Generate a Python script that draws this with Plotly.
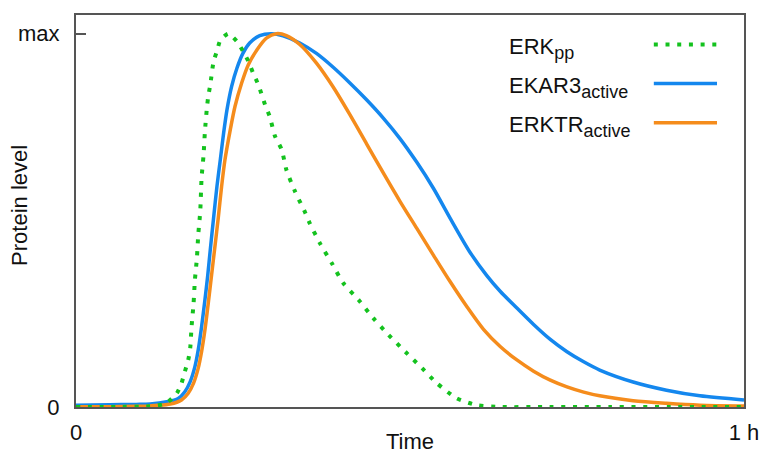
import plotly.graph_objects as go

# ---- data (time in fraction of 1 h, level as fraction of max) ----
erk_t = [0.0, 0.06, 0.11, 0.13, 0.138, 0.151, 0.158, 0.163, 0.168, 0.171, 0.173, 0.176, 0.178, 0.181,
         0.183, 0.186, 0.188, 0.191, 0.193, 0.196, 0.198, 0.201, 0.206, 0.211, 0.216, 0.228,
         0.241, 0.250, 0.258, 0.265, 0.273, 0.283, 0.290, 0.298, 0.308, 0.315, 0.328, 0.343,
         0.350, 0.365, 0.383, 0.400, 0.423, 0.445, 0.468, 0.493, 0.518, 0.540, 0.570, 0.600,
         0.635, 0.70, 0.80, 0.90, 1.0]
erk_v = [0.0, 0.0, 0.002, 0.007, 0.014, 0.037, 0.064, 0.095, 0.126, 0.158, 0.215, 0.278, 0.340, 0.399,
         0.461, 0.524, 0.614, 0.676, 0.738, 0.802, 0.832, 0.863, 0.926, 0.953, 0.982, 1.0,
         0.979, 0.953, 0.926, 0.895, 0.863, 0.810, 0.778, 0.725, 0.689, 0.635, 0.577, 0.521,
         0.492, 0.439, 0.385, 0.332, 0.287, 0.238, 0.193, 0.148, 0.104, 0.064, 0.023, 0.005,
         0.0, 0.0, 0.0, 0.0, 0.0]

ekar_t = [0.0, 0.05, 0.09, 0.111, 0.136, 0.153, 0.163, 0.171, 0.178, 0.183, 0.188, 0.193, 0.197,
          0.201, 0.206, 0.211, 0.216, 0.221, 0.226, 0.233, 0.241, 0.250, 0.260, 0.275, 0.293,
          0.310, 0.335, 0.360, 0.385, 0.410, 0.435, 0.460, 0.485, 0.510, 0.535, 0.560, 0.590,
          0.615, 0.635, 0.660, 0.685, 0.710, 0.735, 0.760, 0.784, 0.834, 0.884, 0.934, 1.0]
ekar_v = [0.005, 0.006, 0.007, 0.008, 0.014, 0.023, 0.041, 0.068, 0.108, 0.153, 0.215, 0.287, 0.349,
          0.421, 0.507, 0.591, 0.662, 0.734, 0.796, 0.859, 0.908, 0.948, 0.975, 0.995, 1.0,
          0.994, 0.975, 0.947, 0.910, 0.868, 0.823, 0.774, 0.719, 0.656, 0.586, 0.506, 0.414,
          0.352, 0.310, 0.265, 0.221, 0.181, 0.148, 0.121, 0.099, 0.067, 0.045, 0.030, 0.019]

erktr_t = [0.0, 0.05, 0.09, 0.111, 0.141, 0.158, 0.168, 0.176, 0.183, 0.188, 0.193, 0.198, 0.203,
           0.208, 0.213, 0.218, 0.223, 0.231, 0.238, 0.248, 0.258, 0.271, 0.285, 0.300, 0.315,
           0.335, 0.360, 0.385, 0.410, 0.435, 0.460, 0.485, 0.510, 0.535, 0.560, 0.585, 0.610,
           0.635, 0.660, 0.685, 0.710, 0.735, 0.760, 0.784, 0.834, 0.884, 0.934, 1.0]
erktr_v = [0.001, 0.001, 0.002, 0.003, 0.008, 0.019, 0.037, 0.064, 0.104, 0.148, 0.206, 0.278, 0.354,
           0.430, 0.507, 0.591, 0.662, 0.743, 0.805, 0.868, 0.917, 0.957, 0.988, 1.0, 0.995,
           0.971, 0.921, 0.857, 0.783, 0.705, 0.627, 0.551, 0.479, 0.407, 0.336, 0.269, 0.208,
           0.162, 0.126, 0.096, 0.072, 0.054, 0.040, 0.030, 0.017, 0.010, 0.005, 0.003]

x_tickvals = [0, 1]
x_ticktext = ["0", "1 h"]
y_tickvals = [0, 1]
y_ticktext = ["0", "max"]

SUB = '<sub><span style="font-size:18px">{}</span></sub>'
legend_labels = ["ERK" + SUB.format("pp"), "EKAR3" + SUB.format("active"), "ERKTR" + SUB.format("active")]

GREEN = "#14c21e"
BLUE = "#1487ee"
ORANGE = "#f58c1c"
AXIS = "#555555"
FONT = "Liberation Sans, Arial, sans-serif"
TXT = "#111111"

fig = go.Figure()
fig.add_trace(go.Scatter(x=ekar_t, y=ekar_v, mode="lines", line=dict(color=BLUE, width=3.5, shape="spline", smoothing=0.8), name="EKAR3"))
fig.add_trace(go.Scatter(x=erktr_t, y=erktr_v, mode="lines", line=dict(color=ORANGE, width=3.5, shape="spline", smoothing=0.8), name="ERKTR"))
fig.add_trace(go.Scatter(x=erk_t, y=erk_v, mode="lines", line=dict(color=GREEN, width=4, dash="4px,7.7px", shape="spline", smoothing=0.6), name="ERKpp"))

fig.update_layout(
    width=764, height=452,
    margin=dict(l=76, r=20, t=15, b=45),
    paper_bgcolor="white", plot_bgcolor="white",
    showlegend=False,
    font=dict(family=FONT, size=22, color=TXT),
    xaxis=dict(range=[0, 1], tickvals=x_tickvals, ticktext=x_ticktext, ticks="",
               showline=True, mirror=True, linecolor=AXIS, linewidth=2,
               showgrid=False, zeroline=False, ticklabelstandoff=5, automargin=False,
               tickfont=dict(size=22, family=FONT, color=TXT)),
    yaxis=dict(range=[0, 1.05], tickvals=y_tickvals, ticktext=y_ticktext, ticks="inside",
               ticklen=10, tickwidth=1.5, tickcolor=AXIS,
               showline=True, mirror=True, linecolor=AXIS, linewidth=2,
               showgrid=False, zeroline=False, ticklabelstandoff=10, automargin=False,
               tickfont=dict(size=22, family=FONT, color=TXT)),
)

# axis titles
fig.add_annotation(text="Time", xref="paper", yref="paper", x=0.5, y=0, yanchor="middle",
                   yshift=-34, height=22, valign="middle", showarrow=False,
                   font=dict(size=22, family=FONT, color=TXT))
fig.add_annotation(text="Protein level", xref="paper", yref="paper", x=0, y=0.513, xanchor="center",
                   yanchor="middle", xshift=-56, textangle=-90, showarrow=False,
                   font=dict(size=22, family=FONT, color=TXT))

# manual legend: label on left, line sample on right
legend_colors = [GREEN, BLUE, ORANGE]
legend_dash = ["4px,7.7px", "solid", "solid"]
legend_widths = [4, 3.5, 3.5]
legend_y = [0.9246, 0.825, 0.7254]
for lab, col, dsh, w, yy in zip(legend_labels, legend_colors, legend_dash, legend_widths, legend_y):
    fig.add_annotation(text=lab, xref="paper", yref="paper", x=0.645, y=yy, xanchor="left",
                       yanchor="middle", yshift=-4, showarrow=False,
                       font=dict(size=22, family=FONT, color=TXT))
    fig.add_shape(type="line", xref="paper", yref="paper", x0=0.865, x1=0.9596, y0=yy, y1=yy,
                  line=dict(color=col, width=w, dash=dsh))

fig.write_html("out.html")
